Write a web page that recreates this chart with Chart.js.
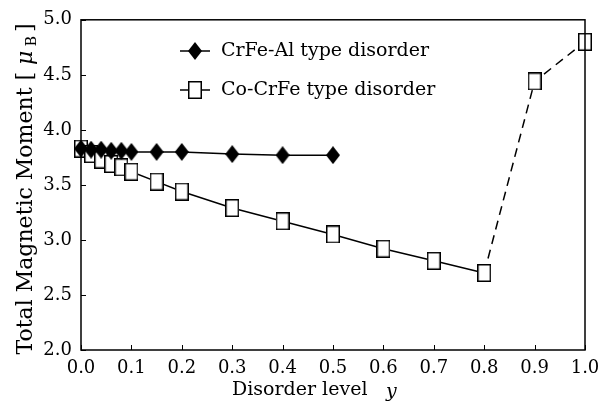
<!DOCTYPE html>
<html>
<head>
<meta charset="utf-8">
<script src="https://cdn.jsdelivr.net/npm/chart.js@4"></script>
<style>
  html, body { margin: 0; padding: 0; background: #fff; }
  #wrap { width: 602px; height: 407px; }
</style>
</head>
<body>
<div id="wrap"><canvas id="momentChart" width="602" height="407"></canvas></div>
<script>
// disorder level y (x axis)
const levelsAl = [0, 0.02, 0.04, 0.06, 0.08, 0.1, 0.15, 0.2, 0.3, 0.4, 0.5];
const levelsCo = [0, 0.02, 0.04, 0.06, 0.08, 0.1, 0.15, 0.2, 0.3, 0.4, 0.5, 0.6, 0.7, 0.8, 0.9, 1.0];
// total moment values
const momentAl = [3.83, 3.82, 3.82, 3.81, 3.81, 3.80, 3.80, 3.80, 3.78, 3.77, 3.77];
const momentCo = [3.83, 3.78, 3.73, 3.69, 3.66, 3.62, 3.53, 3.44, 3.29, 3.17, 3.05, 2.92, 2.81, 2.70, 4.44, 4.80];
const xTicks = [0, 0.1, 0.2, 0.3, 0.4, 0.5, 0.6, 0.7, 0.8, 0.9, 1.0];
const yTicks = [2.0, 2.5, 3.0, 3.5, 4.0, 4.5, 5.0];
const labels = ['CrFe-Al type disorder', 'Co-CrFe type disorder'];

const SERIF = '"DejaVu Serif", "Liberation Serif", serif';

// marker images (taller than wide like the original)
function makeDiamond(w, h) {
  var c = document.createElement('canvas');
  c.width = w; c.height = h;
  var g = c.getContext('2d');
  g.fillStyle = '#000';
  g.beginPath();
  g.moveTo(w / 2, 0); g.lineTo(w, h / 2); g.lineTo(w / 2, h); g.lineTo(0, h / 2);
  g.closePath(); g.fill();
  return c;
}
function makeBox(w, h) {
  var c = document.createElement('canvas');
  c.width = w; c.height = h;
  var g = c.getContext('2d');
  g.fillStyle = '#fff';
  g.fillRect(0, 0, w, h);
  g.strokeStyle = '#000';
  g.lineWidth = 1.5;
  g.strokeRect(0.75, 0.75, w - 1.5, h - 1.5);
  return c;
}
const diamondImg = makeDiamond(14, 18);
const boxImg = makeBox(14, 18);

// frame, inward ticks, legend and axis titles
const decor = {
  id: 'decor',
  afterDraw(chart) {
    const ctx = chart.ctx;
    const a = chart.chartArea;
    const xs = chart.scales.x, ys = chart.scales.y;
    ctx.save();
    ctx.strokeStyle = '#000';
    ctx.lineWidth = 1.5;
    ctx.strokeRect(a.left, a.top, a.right - a.left, a.bottom - a.top);
    ctx.lineWidth = 1;
    ctx.beginPath();
    xTicks.forEach(function (v) {
      var px = Math.round(xs.getPixelForValue(v)) + 0.5;
      ctx.moveTo(px, a.bottom); ctx.lineTo(px, a.bottom - 5);
    });
    yTicks.forEach(function (v) {
      var py = Math.round(ys.getPixelForValue(v)) + 0.5;
      ctx.moveTo(a.left, py); ctx.lineTo(a.left + 5, py);
    });
    ctx.stroke();

    // legend
    ctx.fillStyle = '#000';
    ctx.font = '19px ' + SERIF;
    ctx.textBaseline = 'middle';
    ctx.textAlign = 'left';
    var lx = 180, rows = [51, 90];
    ctx.lineWidth = 1.5;
    rows.forEach(function (ry, i) {
      ctx.beginPath();
      ctx.moveTo(lx, ry); ctx.lineTo(lx + 30, ry);
      ctx.stroke();
      var img = i === 0 ? diamondImg : boxImg;
      ctx.drawImage(img, lx + 15 - img.width / 2, ry - img.height / 2);
      ctx.fillText(labels[i], lx + 41, ry);
    });

    // x title
    ctx.font = '19px ' + SERIF;
    ctx.textAlign = 'left';
    ctx.fillText('Disorder level', 232, 390);
    ctx.font = 'italic 19px ' + SERIF;
    ctx.fillText('y', 386, 392);

    // y title with subscript
    ctx.translate(26, a.top + (a.bottom - a.top) / 2 + 4);
    ctx.rotate(-Math.PI / 2);
    ctx.font = '22px ' + SERIF;
    var t1 = 'Total Magnetic Moment [ ';
    var w1 = ctx.measureText(t1).width;
    ctx.font = 'italic 22px ' + SERIF;
    var w2 = ctx.measureText('\u03bc').width;
    ctx.font = '14px ' + SERIF;
    var w3 = ctx.measureText(' B').width;
    ctx.font = '22px ' + SERIF;
    var w4 = ctx.measureText(']').width;
    var start = -(w1 + w2 + w3 + w4 + 4) / 2;
    ctx.fillText(t1, start, 0);
    ctx.font = 'italic 22px ' + SERIF;
    ctx.fillText('\u03bc', start + w1, 0);
    ctx.font = '14px ' + SERIF;
    ctx.fillText(' B', start + w1 + w2, 6);
    ctx.font = '22px ' + SERIF;
    ctx.fillText(']', start + w1 + w2 + w3 + 4, 0);
    ctx.restore();
  }
};

var ctx = document.getElementById('momentChart').getContext('2d');
var myChart = new Chart(ctx, {
  type: 'line',
  data: {
    datasets: [
      {
        label: labels[0],
        data: levelsAl.map((x, i) => ({ x: x, y: momentAl[i] })),
        borderColor: '#000',
        borderWidth: 1.5,
        pointStyle: diamondImg,
        pointRadius: 9,
        tension: 0
      },
      {
        label: labels[1],
        data: levelsCo.map((x, i) => ({ x: x, y: momentCo[i] })),
        borderColor: '#000',
        borderWidth: 1.5,
        pointStyle: boxImg,
        pointRadius: 9,
        tension: 0,
        segment: {
          borderDash: c => (c.p0.parsed.x >= 0.8 ? [9, 6] : undefined)
        }
      }
    ]
  },
  options: {
    responsive: false,
    animation: false,
    clip: false,
    layout: { padding: { top: 17, right: 17, left: 1, bottom: 0 } },
    plugins: {
      legend: { display: false },
      tooltip: { enabled: false }
    },
    scales: {
      x: {
        type: 'linear',
        min: 0, max: 1,
        afterBuildTicks: s => { s.ticks = xTicks.map(v => ({ value: v })); },
        afterFit: s => { s.height = 57; s.paddingLeft = 0; s.paddingRight = 0; },
        grid: { display: false, drawTicks: false },
        border: { display: false },
        ticks: {
          color: '#000',
          font: { family: SERIF, size: 18 },
          padding: 8,
          maxRotation: 0,
          callback: v => v.toFixed(1)
        }
      },
      y: {
        type: 'linear',
        min: 2, max: 5,
        afterBuildTicks: s => { s.ticks = yTicks.map(v => ({ value: v })); },
        afterFit: s => { s.width = 80; },
        grid: { display: false, drawTicks: false },
        border: { display: false },
        ticks: {
          color: '#000',
          font: { family: SERIF, size: 18 },
          padding: 9,
          callback: v => v.toFixed(1)
        }
      }
    }
  },
  plugins: [decor]
});
</script>
</body>
</html>
